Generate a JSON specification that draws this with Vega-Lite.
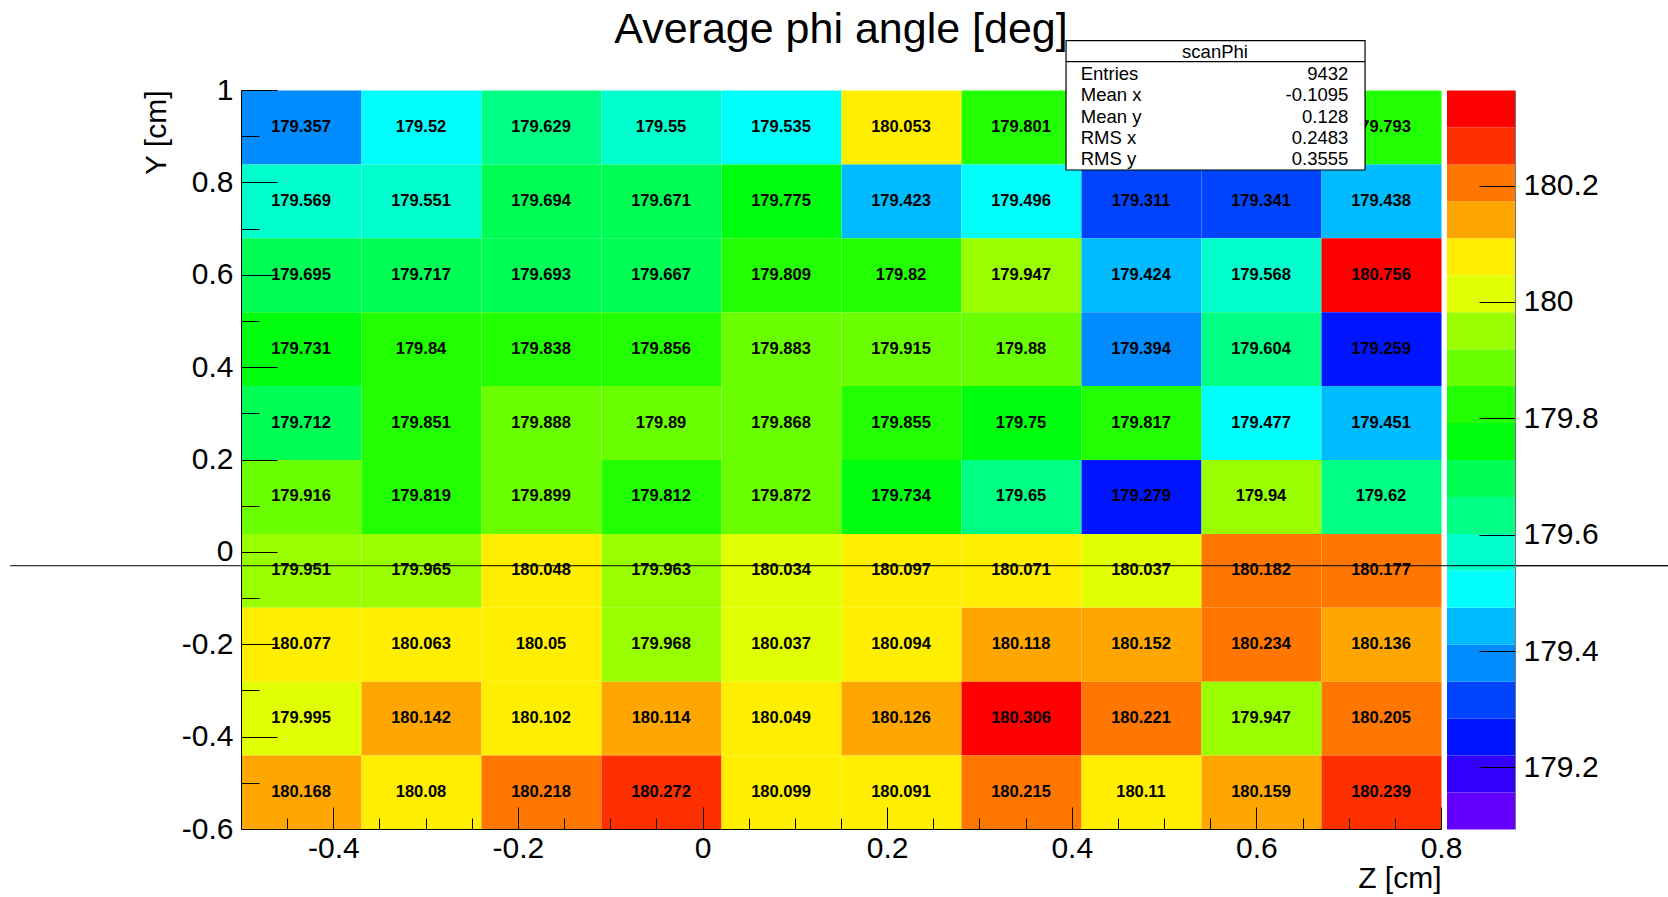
{
  "$schema": "https://vega.github.io/schema/vega-lite/v6.json",
  "autosize": {"type": "none"},
  "padding": {"left": 241, "top": 90, "right": 1427, "bottom": 807},
  "background": "white",
  "bounds": "flush",
  "spacing": 6,
  "config": {
    "font": "Liberation Sans",
    "view": {"stroke": null},
    "axis": {
      "labelFont": "Liberation Sans",
      "labelFontSize": 30,
      "labelColor": "black",
      "tickColor": "black",
      "tickWidth": 1,
      "domainColor": "black",
      "domainWidth": 1,
      "titleFont": "Liberation Sans",
      "titleFontSize": 30,
      "titleFontWeight": "normal",
      "titleColor": "black",
      "grid": false,
      "labelFlush": false,
      "labelOverlap": false,
      "labelBound": false
    }
  },
  "datasets": {
    "cells": [
      {"z": -0.435, "y": 0.92, "phi": 179.357}, {"z": -0.305, "y": 0.92, "phi": 179.52}, {"z": -0.175, "y": 0.92, "phi": 179.629}, {"z": -0.045, "y": 0.92, "phi": 179.55}, {"z": 0.085, "y": 0.92, "phi": 179.535}, {"z": 0.215, "y": 0.92, "phi": 180.053}, {"z": 0.345, "y": 0.92, "phi": 179.801}, {"z": 0.735, "y": 0.92, "phi": 179.793},
      {"z": -0.435, "y": 0.76, "phi": 179.569}, {"z": -0.305, "y": 0.76, "phi": 179.551}, {"z": -0.175, "y": 0.76, "phi": 179.694}, {"z": -0.045, "y": 0.76, "phi": 179.671}, {"z": 0.085, "y": 0.76, "phi": 179.775}, {"z": 0.215, "y": 0.76, "phi": 179.423}, {"z": 0.345, "y": 0.76, "phi": 179.496}, {"z": 0.475, "y": 0.76, "phi": 179.311}, {"z": 0.605, "y": 0.76, "phi": 179.341}, {"z": 0.735, "y": 0.76, "phi": 179.438},
      {"z": -0.435, "y": 0.6, "phi": 179.695}, {"z": -0.305, "y": 0.6, "phi": 179.717}, {"z": -0.175, "y": 0.6, "phi": 179.693}, {"z": -0.045, "y": 0.6, "phi": 179.667}, {"z": 0.085, "y": 0.6, "phi": 179.809}, {"z": 0.215, "y": 0.6, "phi": 179.82}, {"z": 0.345, "y": 0.6, "phi": 179.947}, {"z": 0.475, "y": 0.6, "phi": 179.424}, {"z": 0.605, "y": 0.6, "phi": 179.568}, {"z": 0.735, "y": 0.6, "phi": 180.756},
      {"z": -0.435, "y": 0.44, "phi": 179.731}, {"z": -0.305, "y": 0.44, "phi": 179.84}, {"z": -0.175, "y": 0.44, "phi": 179.838}, {"z": -0.045, "y": 0.44, "phi": 179.856}, {"z": 0.085, "y": 0.44, "phi": 179.883}, {"z": 0.215, "y": 0.44, "phi": 179.915}, {"z": 0.345, "y": 0.44, "phi": 179.88}, {"z": 0.475, "y": 0.44, "phi": 179.394}, {"z": 0.605, "y": 0.44, "phi": 179.604}, {"z": 0.735, "y": 0.44, "phi": 179.259},
      {"z": -0.435, "y": 0.28, "phi": 179.712}, {"z": -0.305, "y": 0.28, "phi": 179.851}, {"z": -0.175, "y": 0.28, "phi": 179.888}, {"z": -0.045, "y": 0.28, "phi": 179.89}, {"z": 0.085, "y": 0.28, "phi": 179.868}, {"z": 0.215, "y": 0.28, "phi": 179.855}, {"z": 0.345, "y": 0.28, "phi": 179.75}, {"z": 0.475, "y": 0.28, "phi": 179.817}, {"z": 0.605, "y": 0.28, "phi": 179.477}, {"z": 0.735, "y": 0.28, "phi": 179.451},
      {"z": -0.435, "y": 0.12, "phi": 179.916}, {"z": -0.305, "y": 0.12, "phi": 179.819}, {"z": -0.175, "y": 0.12, "phi": 179.899}, {"z": -0.045, "y": 0.12, "phi": 179.812}, {"z": 0.085, "y": 0.12, "phi": 179.872}, {"z": 0.215, "y": 0.12, "phi": 179.734}, {"z": 0.345, "y": 0.12, "phi": 179.65}, {"z": 0.475, "y": 0.12, "phi": 179.279}, {"z": 0.605, "y": 0.12, "phi": 179.94}, {"z": 0.735, "y": 0.12, "phi": 179.62},
      {"z": -0.435, "y": -0.04, "phi": 179.951}, {"z": -0.305, "y": -0.04, "phi": 179.965}, {"z": -0.175, "y": -0.04, "phi": 180.048}, {"z": -0.045, "y": -0.04, "phi": 179.963}, {"z": 0.085, "y": -0.04, "phi": 180.034}, {"z": 0.215, "y": -0.04, "phi": 180.097}, {"z": 0.345, "y": -0.04, "phi": 180.071}, {"z": 0.475, "y": -0.04, "phi": 180.037}, {"z": 0.605, "y": -0.04, "phi": 180.182}, {"z": 0.735, "y": -0.04, "phi": 180.177},
      {"z": -0.435, "y": -0.2, "phi": 180.077}, {"z": -0.305, "y": -0.2, "phi": 180.063}, {"z": -0.175, "y": -0.2, "phi": 180.05}, {"z": -0.045, "y": -0.2, "phi": 179.968}, {"z": 0.085, "y": -0.2, "phi": 180.037}, {"z": 0.215, "y": -0.2, "phi": 180.094}, {"z": 0.345, "y": -0.2, "phi": 180.118}, {"z": 0.475, "y": -0.2, "phi": 180.152}, {"z": 0.605, "y": -0.2, "phi": 180.234}, {"z": 0.735, "y": -0.2, "phi": 180.136},
      {"z": -0.435, "y": -0.36, "phi": 179.995}, {"z": -0.305, "y": -0.36, "phi": 180.142}, {"z": -0.175, "y": -0.36, "phi": 180.102}, {"z": -0.045, "y": -0.36, "phi": 180.114}, {"z": 0.085, "y": -0.36, "phi": 180.049}, {"z": 0.215, "y": -0.36, "phi": 180.126}, {"z": 0.345, "y": -0.36, "phi": 180.306}, {"z": 0.475, "y": -0.36, "phi": 180.221}, {"z": 0.605, "y": -0.36, "phi": 179.947}, {"z": 0.735, "y": -0.36, "phi": 180.205},
      {"z": -0.435, "y": -0.52, "phi": 180.168}, {"z": -0.305, "y": -0.52, "phi": 180.08}, {"z": -0.175, "y": -0.52, "phi": 180.218}, {"z": -0.045, "y": -0.52, "phi": 180.272}, {"z": 0.085, "y": -0.52, "phi": 180.099}, {"z": 0.215, "y": -0.52, "phi": 180.091}, {"z": 0.345, "y": -0.52, "phi": 180.215}, {"z": 0.475, "y": -0.52, "phi": 180.11}, {"z": 0.605, "y": -0.52, "phi": 180.159}, {"z": 0.735, "y": -0.52, "phi": 180.239}
    ],
    "bands": [
      {"phi": 179.12595}, {"phi": 179.18945}, {"phi": 179.25295}, {"phi": 179.31645}, {"phi": 179.37995},
      {"phi": 179.44345}, {"phi": 179.50695}, {"phi": 179.57045}, {"phi": 179.63395}, {"phi": 179.69745},
      {"phi": 179.76095}, {"phi": 179.82445}, {"phi": 179.88795}, {"phi": 179.95145}, {"phi": 180.01495},
      {"phi": 180.07845}, {"phi": 180.14195}, {"phi": 180.20545}, {"phi": 180.26895}, {"phi": 180.33245}
    ]
  },
  "hconcat": [
    {
      "width": 1200,
      "height": 739,
      "title": {
        "text": "Average phi angle [deg]",
        "font": "Liberation Sans",
        "fontSize": 43,
        "fontWeight": "normal",
        "color": "black",
        "anchor": "middle",
        "frame": "group",
        "baseline": "alphabetic",
        "offset": -45.5
      },
      "layer": [
        {
          "data": {"name": "cells"},
          "mark": {"type": "rect"},
          "encoding": {
            "x": {
              "field": "z", "type": "quantitative",
              "bin": {"extent": [-0.5, 0.8], "step": 0.13, "nice": false},
              "scale": {"domain": [-0.5, 0.8], "nice": false, "zero": false},
              "axis": {
                "title": "Z [cm]",
                "titleAnchor": "end",
                "titlePadding": -11,
                "values": [-0.5, -0.45, -0.4, -0.35, -0.3, -0.25, -0.2, -0.15, -0.1, -0.05, 0, 0.05, 0.1, 0.15, 0.2, 0.25, 0.3, 0.35, 0.4, 0.45, 0.5, 0.55, 0.6, 0.65, 0.7, 0.75, 0.8],
                "labelExpr": "abs(datum.value*5-round(datum.value*5))<1e-6 ? '' + datum.value : ''",
                "tickSize": {"condition": {"test": "abs(datum.value*5-round(datum.value*5))<1e-6", "value": -22}, "value": -11},
                "labelPadding": 26
              }
            },
            "y": {
              "field": "y", "type": "quantitative",
              "bin": {"extent": [-0.6, 1.0], "step": 0.16, "nice": false},
              "scale": {"domain": [-0.6, 1.0], "nice": false, "zero": false},
              "axis": {
                "title": "Y [cm]",
                "titleAnchor": "end",
                "titlePadding": 10,
                "values": [-0.6, -0.55, -0.5, -0.45, -0.4, -0.35, -0.3, -0.25, -0.2, -0.15, -0.1, -0.05, 0, 0.05, 0.1, 0.15, 0.2, 0.25, 0.3, 0.35, 0.4, 0.45, 0.5, 0.55, 0.6, 0.65, 0.7, 0.75, 0.8, 0.85, 0.9, 0.95, 1],
                "labelExpr": "abs(datum.value*5-round(datum.value*5))<1e-6 ? '' + datum.value : ''",
                "tickSize": {"condition": {"test": "abs(datum.value*5-round(datum.value*5))<1e-6", "value": -36}, "value": -18},
                "labelPadding": 44
              }
            },
            "color": {
              "field": "phi", "type": "quantitative",
              "scale": {
                "type": "quantize", "nice": false,
                "domain": [179.0942, 180.3642],
                "range": ["#6300FF", "#3300FF", "#0014FF", "#0044FF", "#008BFF", "#00BBFF", "#00FFFC", "#00FFCC", "#00FF85", "#00FF55", "#00FF0E", "#22FF00", "#69FF00", "#99FF00", "#E0FF00", "#FFEE00", "#FFA700", "#FF7700", "#FF3000", "#FF0000"]
              },
              "legend": null
            }
          }
        },
        {
          "data": {"name": "cells"},
          "mark": {"type": "text", "font": "Liberation Sans", "fontWeight": "bold", "fontSize": 16.5, "color": "black", "align": "center", "baseline": "middle"},
          "encoding": {
            "x": {"field": "z", "type": "quantitative"},
            "y": {"field": "y", "type": "quantitative"},
            "text": {"field": "phi", "type": "nominal"}
          }
        },
        {
          "data": {"values": [{}]},
          "mark": {"type": "rule", "color": "black", "strokeWidth": 1},
          "encoding": {
            "x": {"datum": -0.75, "type": "quantitative"},
            "x2": {"datum": 1.05},
            "y": {"datum": -0.03, "type": "quantitative"}
          }
        },
        {
          "data": {"values": [{}]},
          "mark": {"type": "rect", "fill": "white", "stroke": "black", "strokeWidth": 1.2},
          "encoding": {
            "x": {"datum": 0.3938, "type": "quantitative"},
            "x2": {"datum": 0.7177},
            "y": {"datum": 1.1067, "type": "quantitative"},
            "y2": {"datum": 0.8268}
          }
        },
        {
          "data": {"values": [{}]},
          "mark": {"type": "rule", "color": "black", "strokeWidth": 1.2},
          "encoding": {
            "x": {"datum": 0.3938, "type": "quantitative"},
            "x2": {"datum": 0.7177},
            "y": {"datum": 1.0613, "type": "quantitative"}
          }
        },
        {
          "data": {"values": [{}]},
          "mark": {"type": "text", "font": "Liberation Sans", "fontSize": 18.5, "color": "black", "align": "center", "baseline": "middle", "text": "scanPhi"},
          "encoding": {
            "x": {"datum": 0.5552, "type": "quantitative"},
            "y": {"datum": 1.0829, "type": "quantitative"}
          }
        },
        {
          "data": {"values": [{}]},
          "mark": {"type": "text", "font": "Liberation Sans", "fontSize": 18.5, "color": "black", "align": "left", "baseline": "middle", "lineHeight": 21.2,
                   "text": ["Entries", "Mean x", "Mean y", "RMS x", "RMS y"]},
          "encoding": {
            "x": {"datum": 0.4097, "type": "quantitative"},
            "y": {"datum": 1.034, "type": "quantitative"}
          }
        },
        {
          "data": {"values": [{}]},
          "mark": {"type": "text", "font": "Liberation Sans", "fontSize": 18.5, "color": "black", "align": "right", "baseline": "middle", "lineHeight": 21.2,
                   "text": ["9432", "-0.1095", "0.128", "0.2483", "0.3555"]},
          "encoding": {
            "x": {"datum": 0.6996, "type": "quantitative"},
            "y": {"datum": 1.034, "type": "quantitative"}
          }
        }
      ]
    },
    {
      "width": 68,
      "height": 739,
      "layer": [
        {
          "data": {"name": "bands"},
          "mark": {"type": "rect"},
          "encoding": {
            "y": {
              "field": "phi", "type": "quantitative",
              "bin": {"extent": [179.0942, 180.3642], "step": 0.0635, "nice": false},
              "scale": {"domain": [179.0942, 180.3642], "nice": false, "zero": false},
              "axis": {
                "orient": "right",
                "title": null,
                "values": [179.2, 179.4, 179.6, 179.8, 180, 180.2],
                "labelExpr": "'' + datum.value",
                "tickSize": -36,
                "labelPadding": 44,
                "domainColor": "#777777"
              }
            },
            "color": {
              "field": "phi", "type": "quantitative",
              "scale": {
                "type": "quantize", "nice": false,
                "domain": [179.0942, 180.3642],
                "range": ["#6300FF", "#3300FF", "#0014FF", "#0044FF", "#008BFF", "#00BBFF", "#00FFFC", "#00FFCC", "#00FF85", "#00FF55", "#00FF0E", "#22FF00", "#69FF00", "#99FF00", "#E0FF00", "#FFEE00", "#FFA700", "#FF7700", "#FF3000", "#FF0000"]
              },
              "legend": null
            }
          }
        },
        {
          "data": {"values": [{}]},
          "mark": {"type": "rule", "color": "black", "strokeWidth": 1},
          "encoding": {
            "x": {"datum": 0, "type": "quantitative", "scale": {"domain": [0, 1]}, "axis": null},
            "x2": {"datum": 3.4},
            "y": {"datum": 179.5467, "type": "quantitative"}
          }
        }
      ]
    }
  ]
}
